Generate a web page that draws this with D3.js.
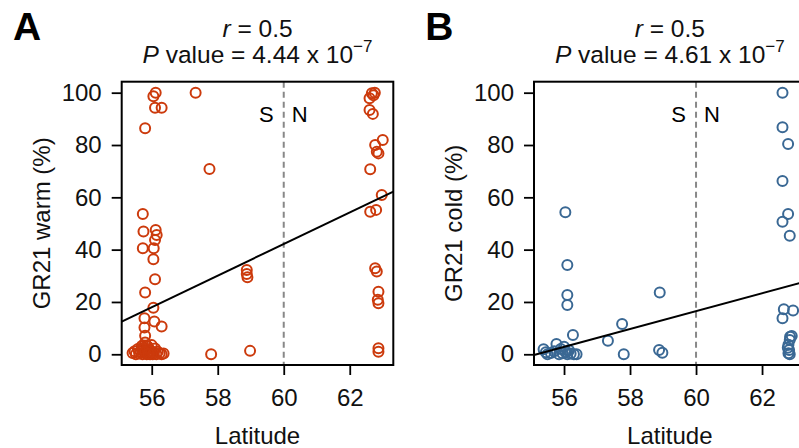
<!DOCTYPE html>
<html>
<head>
<meta charset="utf-8">
<script src="https://cdn.jsdelivr.net/npm/d3@7"></script>
<style>
  body { margin: 0; background: #fff; }
  svg { display: block; font-family: "Liberation Sans", Arial, Helvetica, sans-serif; }
</style>
</head>
<body>
<div id="chart"></div>
<script>
var W = 799, H = 448;

// panel A: GR21 warm
var latA = [56.12, 56.05, 56.1, 56.3, 55.8, 57.33, 57.75,
  55.73, 55.75, 56.12, 56.15, 56.1, 55.73, 56.06, 56.05, 56.1, 55.8, 56.05, 55.78, 55.78, 56.08, 56.3, 55.8,
  57.8, 58.98, 58.88, 58.88, 58.9,
  55.42, 55.48, 55.52, 55.58, 55.62, 55.66, 55.7, 55.72, 55.75, 55.77, 55.8, 55.82, 55.85, 55.88, 55.9,
  55.92, 55.95, 55.98, 56.0, 56.03, 56.06, 56.1, 56.14, 56.18, 56.24, 56.3, 56.36, 55.7, 55.8, 55.9,
  62.67, 62.76, 62.6, 62.72, 62.6, 62.7, 63.0, 62.77, 62.87, 62.82, 62.62, 62.97, 62.62, 62.8,
  62.77, 62.82, 62.87, 62.85, 62.87, 62.87, 62.87];
var valA = [100, 98.6, 94.2, 94.2, 86.4, 100, 70.8,
  53.6, 46.9, 47.5, 45.6, 43.7, 40.5, 40.5, 36.3, 28.7, 23.6, 17.8, 13.8, 10.2, 12.5, 10.6, 7.1,
  0, 1.3, 32.2, 30.7, 29.4,
  0.5, 1.2, 0, 2.0, 0.3, 1.0, 3.2, 0, 2.5, 0.8, 4.5, 1.5, 0, 3.0, 0.6,
  2.0, 0, 1.2, 3.5, 0, 0.8, 2.2, 0, 1.0, 0.4, 0, 0.3, 2.0, 1.0, 0.2,
  99.8, 100, 97.9, 99, 93.4, 91.9, 81.9, 80, 76.8, 77.4, 70.7, 60.9, 54.5, 55.2,
  32.9, 31.6, 23.9, 20.8, 19.5, 2.3, 1.0];

// panel B: GR21 cold
var latB = [56.04, 56.1, 56.1, 56.1, 56.27, 57.33, 57.76, 57.81, 58.9, 58.88, 58.98,
  55.38, 55.5, 55.6, 55.77, 55.7, 55.85, 55.9, 56.0, 56.05, 56.1, 56.15, 56.2, 56.3, 56.38, 55.95, 55.45,
  62.62, 62.62, 62.79, 62.62, 62.79, 62.62, 62.84, 62.66, 62.94, 62.62, 62.85, 62.84, 62.8, 62.82,
  62.8, 62.84, 62.9, 62.78];
var valB = [54.3, 34.1, 22.7, 18.8, 7.4, 5.2, 11.6, 0, 23.6, 1.6, 0.6,
  1.9, 0, 0.5, 3.9, 1.2, 0, 2.0, 2.9, 0.8, 0, 1.5, 0.3, 0, 0, 0.4, 0.8,
  100, 86.8, 80.4, 66.2, 53.6, 50.7, 45.3, 17.2, 16.7, 13.8, 6.7, 5.5, 3.6, 1.6,
  0.4, 0, 7.0, 2.5];

// fitted lines: value = intercept + slope * latitude
var fitA = [-320.24, 6.04];
var fitB = [-188.71, 3.42];

var panelLabels = ["A", "B"];
var yLabels = ["GR21 warm (%)", "GR21 cold (%)"];
var pValues = ["4.44", "4.61"];
var rValues = ["0.5", "0.5"];
var colors = ["#cc3a0c", "#3a6894"];
var xTicks = [56, 58, 60, 62];
var yTicks = [0, 20, 40, 60, 80, 100];

var svg = d3.select('#chart').append('svg')
  .attr('width', W)
  .attr('height', H);

var box = {left: 121.7, top: 81.7, width: 271.6, height: 283.3};

var x = d3.scaleLinear().domain([55.09, 63.32]).range([0, box.width]);
var y = d3.scaleLinear().domain([-4.1, 104.2]).range([box.height, 0]);

function drawPanel(idx, lats, vals, fit, dx) {
  var g = svg.append('g').attr('transform', 'translate(' + (box.left + dx) + ',' + box.top + ')');
  var cx = box.left + dx + box.width / 2;

  // panel letter
  svg.append('text')
    .attr('x', 13 + dx)
    .attr('y', 40)
    .attr('font-size', 39)
    .attr('font-weight', 'bold')
    .text(panelLabels[idx]);

  // title, two lines
  var l1 = svg.append('text')
    .attr('x', cx).attr('y', 37)
    .attr('text-anchor', 'middle')
    .attr('font-size', 24.5)
    .attr('fill', '#111');
  l1.append('tspan').attr('font-style', 'italic').text('r');
  l1.append('tspan').text(' = ' + rValues[idx]);
  var l2 = svg.append('text')
    .attr('x', cx).attr('y', 63)
    .attr('text-anchor', 'middle')
    .attr('font-size', 24.5)
    .attr('fill', '#111');
  l2.append('tspan').attr('font-style', 'italic').text('P');
  l2.append('tspan').text(' value = ' + pValues[idx] + ' x 10');
  l2.append('tspan').attr('font-size', 17).attr('dy', -11).text('\u22127');

  // dashed S/N divider
  g.append('line')
    .attr('x1', x(60)).attr('x2', x(60))
    .attr('y1', 0).attr('y2', box.height)
    .attr('stroke', '#888')
    .attr('stroke-width', 2)
    .attr('stroke-dasharray', '6,4');
  g.append('text')
    .attr('x', x(60) - 10).attr('y', 40)
    .attr('text-anchor', 'end')
    .attr('font-size', 22)
    .text('S');
  g.append('text')
    .attr('x', x(60) + 8).attr('y', 40)
    .attr('font-size', 22)
    .text('N');

  // points
  g.selectAll('circle')
    .data(lats)
    .enter()
    .append('circle')
    .attr('cx', function(d) { return x(d); })
    .attr('cy', function(d, i) { return y(vals[i]); })
    .attr('r', 5)
    .attr('fill', 'none')
    .attr('stroke', colors[idx])
    .attr('stroke-width', 2);

  // regression line
  var xd = x.domain();
  g.append('line')
    .attr('x1', x(xd[0])).attr('y1', y(fit[0] + fit[1] * xd[0]))
    .attr('x2', x(xd[1])).attr('y2', y(fit[0] + fit[1] * xd[1]))
    .attr('stroke', '#000')
    .attr('stroke-width', 2);

  // box
  g.append('rect')
    .attr('width', box.width)
    .attr('height', box.height)
    .attr('fill', 'none')
    .attr('stroke', '#000')
    .attr('stroke-width', 2);

  // axes
  var ya = g.append('g')
    .call(d3.axisLeft(y).tickValues(yTicks).tickSize(10).tickPadding(10).tickSizeOuter(0));
  var xa = g.append('g')
    .attr('transform', 'translate(0,' + box.height + ')')
    .call(d3.axisBottom(x).tickValues(xTicks).tickSize(10).tickPadding(14).tickSizeOuter(0));
  [ya, xa].forEach(function(a) {
    a.select('.domain').remove();
    a.selectAll('line').attr('stroke', '#000').attr('stroke-width', 1.8);
    a.selectAll('text')
      .attr('font-size', 24)
      .attr('font-family', '"Liberation Sans", Arial, Helvetica, sans-serif')
      .attr('fill', '#111');
  });

  // axis titles
  svg.append('text')
    .attr('x', cx)
    .attr('y', 444)
    .attr('text-anchor', 'middle')
    .attr('font-size', 24)
    .attr('fill', '#111')
    .text('Latitude');
  svg.append('text')
    .attr('transform', 'translate(' + (50 + dx) + ',' + (box.top + box.height / 2) + ') rotate(-90)')
    .attr('text-anchor', 'middle')
    .attr('font-size', 24)
    .attr('fill', '#111')
    .text(yLabels[idx]);
}

drawPanel(0, latA, valA, fitA, 0);
drawPanel(1, latB, valB, fitB, 412.3);
</script>
</body>
</html>
